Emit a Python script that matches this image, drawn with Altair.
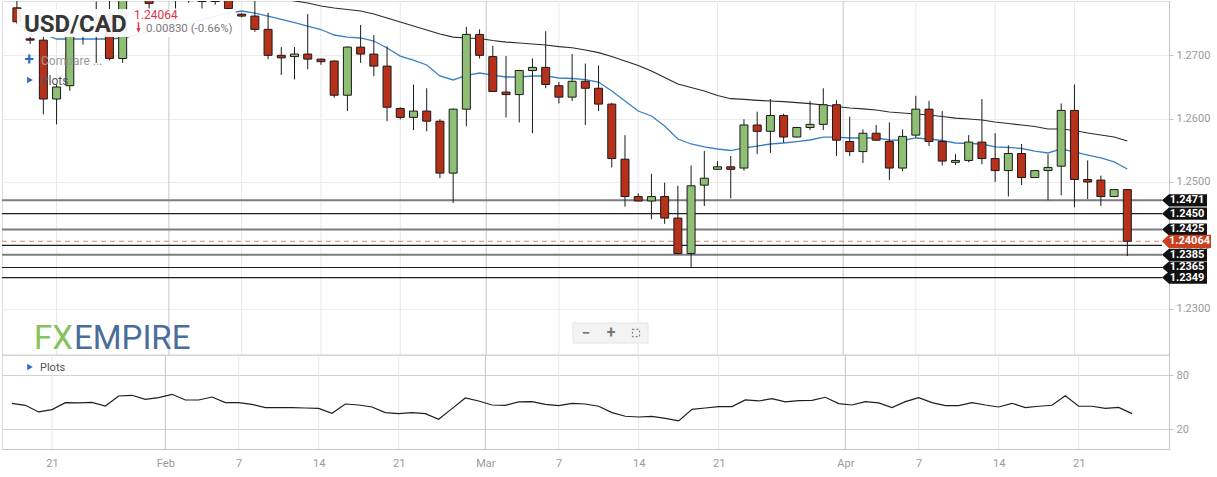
import altair as alt
import pandas as pd

# ---------------- data ----------------
opens = [1.2775, 1.2726, 1.2724, 1.2631, 1.2652, 1.2740, 1.2742, 1.2765, 1.2695, 1.2800,
         1.2805, 1.2790, 1.2800, 1.2795, 1.2792, 1.2786, 1.2795, 1.2765, 1.2762, 1.2741,
         1.2700, 1.2698, 1.2702, 1.2694, 1.2691, 1.2637, 1.2713, 1.2702, 1.2683, 1.2616,
         1.2602, 1.2612, 1.2596, 1.2514, 1.2615, 1.2733, 1.2698, 1.2642, 1.2638, 1.2676,
         1.2681, 1.2652, 1.2634, 1.2659, 1.2648, 1.2623, 1.2536, 1.2477, 1.2470, 1.2477,
         1.2443, 1.2387, 1.2495, 1.2520, 1.2524, 1.2522, 1.2590, 1.2580, 1.2605, 1.2571,
         1.2586, 1.2591, 1.2622, 1.2564, 1.2548, 1.2577, 1.2564, 1.2522, 1.2574, 1.2615,
         1.2564, 1.2531, 1.2534, 1.2563, 1.2537, 1.2518, 1.2545, 1.2507, 1.2518, 1.2525,
         1.2613, 1.2504, 1.2503, 1.2477, 1.2488]
highs = [1.2790, 1.2735, 1.2735, 1.2654, 1.2745, 1.2760, 1.2785, 1.2790, 1.2810, 1.2820,
         1.2815, 1.2810, 1.2810, 1.2808, 1.2800, 1.2795, 1.2800, 1.2767, 1.2790, 1.2767,
         1.2713, 1.2713, 1.2765, 1.2695, 1.2692, 1.2714, 1.2748, 1.2732, 1.2714, 1.2618,
         1.2654, 1.2648, 1.2599, 1.2616, 1.2745, 1.2741, 1.2715, 1.2699, 1.2677, 1.2695,
         1.2738, 1.2658, 1.2702, 1.2687, 1.2684, 1.2625, 1.2574, 1.2482, 1.2513, 1.2499,
         1.2494, 1.2526, 1.2549, 1.2533, 1.2541, 1.2599, 1.2611, 1.2631, 1.2608, 1.2587,
         1.2628, 1.2648, 1.2629, 1.2603, 1.2583, 1.2590, 1.2594, 1.2583, 1.2636, 1.2628,
         1.2612, 1.2544, 1.2574, 1.2631, 1.2577, 1.2558, 1.2560, 1.2519, 1.2544, 1.2624,
         1.2654, 1.2534, 1.2510, 1.2488, 1.2489]
lows = [1.2750, 1.2718, 1.2607, 1.2591, 1.2644, 1.2717, 1.2688, 1.2692, 1.2688, 1.2790,
        1.2774, 1.2789, 1.2774, 1.2783, 1.2774, 1.2780, 1.2772, 1.2760, 1.2737, 1.2694,
        1.2669, 1.2662, 1.2678, 1.2685, 1.2633, 1.2612, 1.2688, 1.2667, 1.2596, 1.2599,
        1.2582, 1.2580, 1.2506, 1.2467, 1.2588, 1.2695, 1.2643, 1.2602, 1.2594, 1.2577,
        1.2648, 1.2624, 1.2628, 1.2590, 1.2612, 1.2523, 1.2461, 1.2469, 1.2441, 1.2434,
        1.2386, 1.2365, 1.2462, 1.2520, 1.2474, 1.2518, 1.2544, 1.2546, 1.2562, 1.2570,
        1.2582, 1.2582, 1.2541, 1.2541, 1.2530, 1.2565, 1.2503, 1.2517, 1.2570, 1.2557,
        1.2526, 1.2527, 1.2531, 1.2528, 1.2500, 1.2477, 1.2495, 1.2507, 1.2471, 1.2479,
        1.2460, 1.2473, 1.2462, 1.2476, 1.2383]
closes = [1.2753, 1.2724, 1.2631, 1.2650, 1.2740, 1.2752, 1.2760, 1.2695, 1.2800, 1.2812,
          1.2782, 1.2800, 1.2795, 1.2800, 1.2785, 1.2785, 1.2774, 1.2762, 1.2741, 1.2700,
          1.2696, 1.2702, 1.2694, 1.2690, 1.2637, 1.2713, 1.2702, 1.2683, 1.2618, 1.2602,
          1.2612, 1.2596, 1.2514, 1.2615, 1.2733, 1.2700, 1.2643, 1.2638, 1.2676, 1.2681,
          1.2654, 1.2634, 1.2659, 1.2648, 1.2623, 1.2537, 1.2477, 1.2470, 1.2477, 1.2443,
          1.2387, 1.2494, 1.2506, 1.2524, 1.2520, 1.2590, 1.2580, 1.2605, 1.2571, 1.2586,
          1.2591, 1.2622, 1.2566, 1.2548, 1.2577, 1.2566, 1.2522, 1.2572, 1.2615, 1.2564,
          1.2533, 1.2534, 1.2563, 1.2537, 1.2518, 1.2545, 1.2507, 1.2518, 1.2523, 1.2613,
          1.2504, 1.2500, 1.2477, 1.2488, 1.24064]

ma_fast = [1.27479, 1.27416, 1.27337, 1.27258, 1.27258, 1.27258, 1.27258, 1.27258, 1.27274, 1.27321,
           1.27368, 1.27416, 1.27463, 1.27510, 1.27558, 1.27621, 1.27668, 1.27700, 1.27668, 1.27621,
           1.27566, 1.27518, 1.27463, 1.27408, 1.27321, 1.27289, 1.27274, 1.27226, 1.27116, 1.26989,
           1.26926, 1.26848, 1.26674, 1.26611, 1.26682, 1.26721, 1.26689, 1.26658, 1.26658, 1.26674,
           1.26674, 1.26642, 1.26634, 1.26618, 1.26579, 1.26437, 1.26279, 1.26121, 1.26042, 1.25884,
           1.25679, 1.25600, 1.25553, 1.25521, 1.25497, 1.25537, 1.25568, 1.25600, 1.25616, 1.25639,
           1.25663, 1.25710, 1.25710, 1.25695, 1.25695, 1.25695, 1.25663, 1.25655, 1.25695, 1.25679,
           1.25655, 1.25616, 1.25608, 1.25600, 1.25553, 1.25545, 1.25529, 1.25489, 1.25458, 1.25521,
           1.25474, 1.25426, 1.25379, 1.25316, 1.25205]
ma_slow = [None] * 19 + [
           1.27940, 1.27900, 1.27858, 1.27826, 1.27779, 1.27747, 1.27724, 1.27700, 1.27653, 1.27589,
           1.27526, 1.27463, 1.27400, 1.27337, 1.27289, 1.27274, 1.27266, 1.27234, 1.27210, 1.27195,
           1.27179, 1.27163, 1.27139, 1.27120, 1.27084, 1.27042, 1.26982, 1.26910, 1.26839, 1.26753,
           1.26650, 1.26547, 1.26492, 1.26437, 1.26366, 1.26315, 1.26303, 1.26290, 1.26279, 1.26268,
           1.26252, 1.26236, 1.26216, 1.26192, 1.26168, 1.26153, 1.26137, 1.26105, 1.26089, 1.26074,
           1.26058, 1.26034, 1.26010, 1.25995, 1.25979, 1.25947, 1.25924, 1.25900, 1.25876, 1.25837,
           1.25837, 1.25813, 1.25774, 1.25742, 1.25711, 1.25647]

osc = [48.9, 46.7, 39.3, 41.9, 49.6, 49.3, 50.0, 45.9, 57.0, 57.8,
       53.3, 55.2, 58.9, 52.6, 52.6, 55.9, 49.6, 49.6, 47.8, 44.1,
       44.1, 44.1, 43.7, 43.3, 37.8, 48.1, 47.0, 44.8, 38.5, 37.4,
       38.5, 37.4, 31.1, 43.0, 54.8, 51.5, 47.0, 46.7, 50.4, 50.7,
       47.8, 46.3, 48.9, 48.1, 45.6, 38.5, 34.5, 33.7, 34.4, 32.2,
       29.3, 42.2, 43.7, 45.2, 45.2, 52.6, 51.5, 54.1, 50.4, 51.9,
       52.2, 55.6, 48.5, 47.0, 50.7, 49.3, 44.1, 50.7, 55.2, 49.6,
       46.3, 46.3, 49.6, 47.0, 44.8, 48.9, 44.1, 45.6, 46.7, 57.4,
       45.6, 45.6, 43.3, 44.4, 37.4]

tick_pos = [3, 11.5, 17, 23, 29, 35.5, 41, 47, 53, 62.5, 68, 74, 80]
tick_text = ['21', 'Feb', '7', '14', '21', 'Mar', '7', '14', '21', 'Apr', '7', '14', '21']
tick_kind = ['w', 'm', 'w', 'w', 'w', 'm', 'w', 'w', 'w', 'm', 'w', 'w', 'w']

level_vals = [1.2471, 1.2450, 1.2425, 1.2400, 1.2385, 1.2365, 1.2349]
level_kind = ['g', 'b', 'g', 'b', 'g', 'b', 'b']
tag_vals = [1.2471, 1.2450, 1.2425, 1.2385, 1.2365, 1.2349]
tag_text = ['1.2471', '1.2450', '1.2425', '1.2385', '1.2365', '1.2349']
last_price = [1.24064]
last_text = ['1.24064']
price_axis = [1.23, 1.24, 1.25, 1.26, 1.27]
osc_axis = [20, 80]

# ---------------- frames ----------------
n = len(opens)
idx = list(range(n))
candles = pd.DataFrame({'k': idx, 'o': opens, 'h': highs, 'l': lows, 'c': closes})
candles['dir'] = ['up' if c >= o else 'down' for o, c in zip(opens, closes)]
mas = pd.DataFrame({'k': idx, 'fast': ma_fast, 'slow': ma_slow})
oscdf = pd.DataFrame({'k': idx, 'v': osc})
ticks = pd.DataFrame({'t': tick_pos, 'kind': tick_kind})
levels = pd.DataFrame({'p': level_vals, 'kind': level_kind})
tags = pd.DataFrame({'p': tag_vals, 'txt': tag_text})
last = pd.DataFrame({'p': last_price, 'txt': last_text})
one = pd.DataFrame({'a': [0]})

W = 1167
H_MAIN = 354
H_LOW = 94
FONT = 'Roboto'
GREEN = '#8fbf74'
RED = '#b7311a'

xscale = alt.Scale(domain=[-0.75, 86.775], nice=False, zero=False)
yscale = alt.Scale(domain=[1.22268, 1.27858], nice=False, zero=False)
oscale = alt.Scale(domain=[-1.9, 102.6], nice=False, zero=False)

y_main_axis = alt.Axis(orient='right', values=price_axis, format='.4f', grid=True,
                       gridColor='#ececec', domainColor='#c4c4c4', tickColor='#c4c4c4',
                       tickSize=4, labelColor='#9a9a9a', labelFont=FONT, labelFontSize=11,
                       labelPadding=3, title=None)

X = alt.X('k:Q', scale=xscale, axis=None)

grid_main = alt.Chart(ticks).mark_rule(strokeWidth=1).encode(
    x=alt.X('t:Q', scale=xscale, axis=None),
    color=alt.Color('kind:N', scale=alt.Scale(domain=['w', 'm'], range=['#e8e8e8', '#c6c6c6']),
                    legend=None))

levels_g = alt.Chart(levels).transform_filter(alt.datum.kind == 'g').mark_rule(
    color='#7d7d7d', strokeWidth=2).encode(
    y=alt.Y('p:Q', scale=yscale, axis=y_main_axis), x=alt.value(0), x2=alt.value(1160))
levels_b = alt.Chart(levels).transform_filter(alt.datum.kind == 'b').mark_rule(
    color='#1e1e1e', strokeWidth=1.2).encode(
    y=alt.Y('p:Q', scale=yscale, axis=y_main_axis), x=alt.value(0), x2=alt.value(1160))
last_line = alt.Chart(last).mark_rule(color='#e2806e', strokeWidth=1.2, strokeDash=[5, 4]).encode(
    y=alt.Y('p:Q', scale=yscale, axis=y_main_axis), x=alt.value(0), x2=alt.value(1160))

line_slow = alt.Chart(mas).transform_filter('isValid(datum.slow)').mark_line(
    color='#2b2b2b', strokeWidth=1.2, clip=True).encode(
    x=X, y=alt.Y('slow:Q', scale=yscale, axis=y_main_axis))
line_fast = alt.Chart(mas).mark_line(color='#3a80c3', strokeWidth=1.3, clip=True).encode(
    x=X, y=alt.Y('fast:Q', scale=yscale, axis=y_main_axis))

wicks = alt.Chart(candles).mark_rule(color='#1a1a1a', strokeWidth=1, clip=True).encode(
    x=X, y=alt.Y('l:Q', scale=yscale, axis=y_main_axis), y2='h:Q')
bodies = alt.Chart(candles).mark_bar(width=8, stroke='#1a1a1a', strokeWidth=1, clip=True,
                                     opacity=1).encode(
    x=X, y=alt.Y('o:Q', scale=yscale, axis=y_main_axis), y2='c:Q',
    fill=alt.Fill('dir:N', scale=alt.Scale(domain=['up', 'down'], range=[GREEN, RED]), legend=None))

# price tags
TAG_PATH = 'M-1,0L-0.69,-0.27L1,-0.27L1,0.27L-0.69,0.27Z'
tag_shapes = alt.Chart(tags).mark_point(shape=TAG_PATH, size=2025, filled=True, fill='#111111',
                                        stroke=None, opacity=1).encode(
    y=alt.Y('p:Q', scale=yscale, axis=y_main_axis), x=alt.value(1182.5))
tag_texts = alt.Chart(tags).mark_text(color='white', font=FONT, fontWeight='bold', fontSize=11,
                                      align='center', baseline='middle').encode(
    y=alt.Y('p:Q', scale=yscale, axis=y_main_axis), x=alt.value(1185), text='txt:N')
LAST_PATH = 'M-1,0L-0.72,-0.27L1,-0.27L1,0.27L-0.72,0.27Z'
last_shape = alt.Chart(last).mark_point(shape=LAST_PATH, size=2401, filled=True, fill='#c9401f',
                                        stroke=None, opacity=1).encode(
    y=alt.Y('p:Q', scale=yscale, axis=y_main_axis), x=alt.value(1184.5))
last_text_m = alt.Chart(last).mark_text(color='white', font=FONT, fontWeight='bold', fontSize=11,
                                        align='center', baseline='middle').encode(
    y=alt.Y('p:Q', scale=yscale, axis=y_main_axis), x=alt.value(1187.5), text='txt:N')

# header overlay
def txt(s, x, y, size, color, weight='normal', align='left', baseline='alphabetic', font=FONT):
    return alt.Chart(one).mark_text(text=s, font=font, fontSize=size, color=color,
                                    fontWeight=weight, align=align, baseline=baseline).encode(
        x=alt.value(x), y=alt.value(y))

box = alt.Chart(one).mark_rect(fill='white', opacity=0.92).encode(
    x=alt.value(15), x2=alt.value(234), y=alt.value(8), y2=alt.value(36))
title = txt('USD/CAD', 22, 31, 24, '#363636', 'bold')
price_txt = txt('1.24064', 132, 18, 12, '#e5304f')
arrow = alt.Chart(one).mark_point(shape='arrow', angle=180, size=110, filled=True,
                                  color='#e5304f', fill='#e5304f', strokeWidth=1.5,
                                  opacity=1).encode(
    x=alt.value(136.5), y=alt.value(26.5))
chg_txt = txt('0.00830 (-0.66%)', 144, 31, 11.5, '#7a7a7a')
plus = txt('+', 27, 64, 17, '#2e6cc0', 'bold', align='center')
compare = txt('Compare ...', 39, 64, 12, '#9a9a9a')
tri1 = alt.Chart(one).mark_point(shape='triangle-right', size=45, filled=True,
                                 color='#2e6cc0', opacity=1).encode(x=alt.value(28), y=alt.value(79))
plots1 = txt('Plots', 39, 84, 12, '#555555')

fx = txt('FX', 32, 348, 33, '#84c25a')
empire = txt('EMPIRE', 72, 348, 33, '#4b6d9b')

zbox = alt.Chart(one).mark_rect(fill='#f3f3f3', stroke='#e4e4e4', strokeWidth=1).encode(
    x=alt.value(571), x2=alt.value(646), y=alt.value(322), y2=alt.value(342))
zminus = txt('\u2212', 584, 337, 15, '#777777', 'bold', align='center')
zplus = txt('+', 609, 337, 16, '#777777', 'bold', align='center')
zfull = alt.Chart(one).mark_point(shape='square', size=50, filled=False, color='#888888',
                                  strokeDash=[2, 2], strokeWidth=1.2, opacity=1).encode(
    x=alt.value(634), y=alt.value(332))

main = alt.layer(
    grid_main, levels_g, levels_b, last_line, line_slow, line_fast, wicks, bodies,
    box, title, price_txt, arrow, chg_txt, plus, compare, tri1, plots1,
    fx, empire, zbox, zminus, zplus, zfull,
    tag_shapes, tag_texts, last_shape, last_text_m,
).properties(width=W, height=H_MAIN)

# ---------------- lower panel ----------------
label_expr = ("[" + ",".join("'%s'" % t for t in tick_text) + "][indexof(["
              + ",".join(str(p) for p in tick_pos) + "], datum.value)]")
x_low_axis = alt.Axis(values=tick_pos, labelExpr=label_expr, grid=False, ticks=False,
                      domain=True, domainColor='#c4c4c4', labelColor='#9a9a9a', labelFont=FONT,
                      labelFontSize=11, labelPadding=8, title=None, labelFlush=False)
y_low_axis = alt.Axis(orient='right', values=osc_axis, grid=True, gridColor='#d2d2d2',
                      domainColor='#c4c4c4', tickColor='#c4c4c4', tickSize=4,
                      labelColor='#9a9a9a', labelFont=FONT, labelFontSize=11, labelPadding=3,
                      title=None)

grid_low = alt.Chart(ticks).mark_rule(strokeWidth=1).encode(
    x=alt.X('t:Q', scale=xscale, axis=x_low_axis),
    color=alt.Color('kind:N', scale=alt.Scale(domain=['w', 'm'], range=['#e8e8e8', '#c6c6c6']),
                    legend=None))
separator = alt.Chart(one).mark_rule(color='#cfcfcf', strokeWidth=1).encode(
    y=alt.value(0), x=alt.value(0), x2=alt.value(W))
osc_line = alt.Chart(oscdf).mark_line(color='#1e1e1e', strokeWidth=1.2, clip=True).encode(
    x=alt.X('k:Q', scale=xscale, axis=x_low_axis),
    y=alt.Y('v:Q', scale=oscale, axis=y_low_axis))
tri2 = alt.Chart(one).mark_point(shape='triangle-right', size=40, filled=True,
                                 color='#2e6cc0', opacity=1).encode(x=alt.value(28), y=alt.value(12))
plots2 = txt('Plots', 38, 16, 11, '#555555')

lower = alt.layer(grid_low, separator, osc_line, tri2, plots2).properties(width=W, height=H_LOW)

chart = alt.vconcat(main, lower, spacing=0, bounds='flush').resolve_scale(
    color='independent').properties(
    padding={'left': 0, 'top': 0, 'right': 0, 'bottom': 0}
).configure_view(stroke=None).configure(background='white')

chart.save('out.html', embed_options={'renderer': 'svg', 'actions': False})
